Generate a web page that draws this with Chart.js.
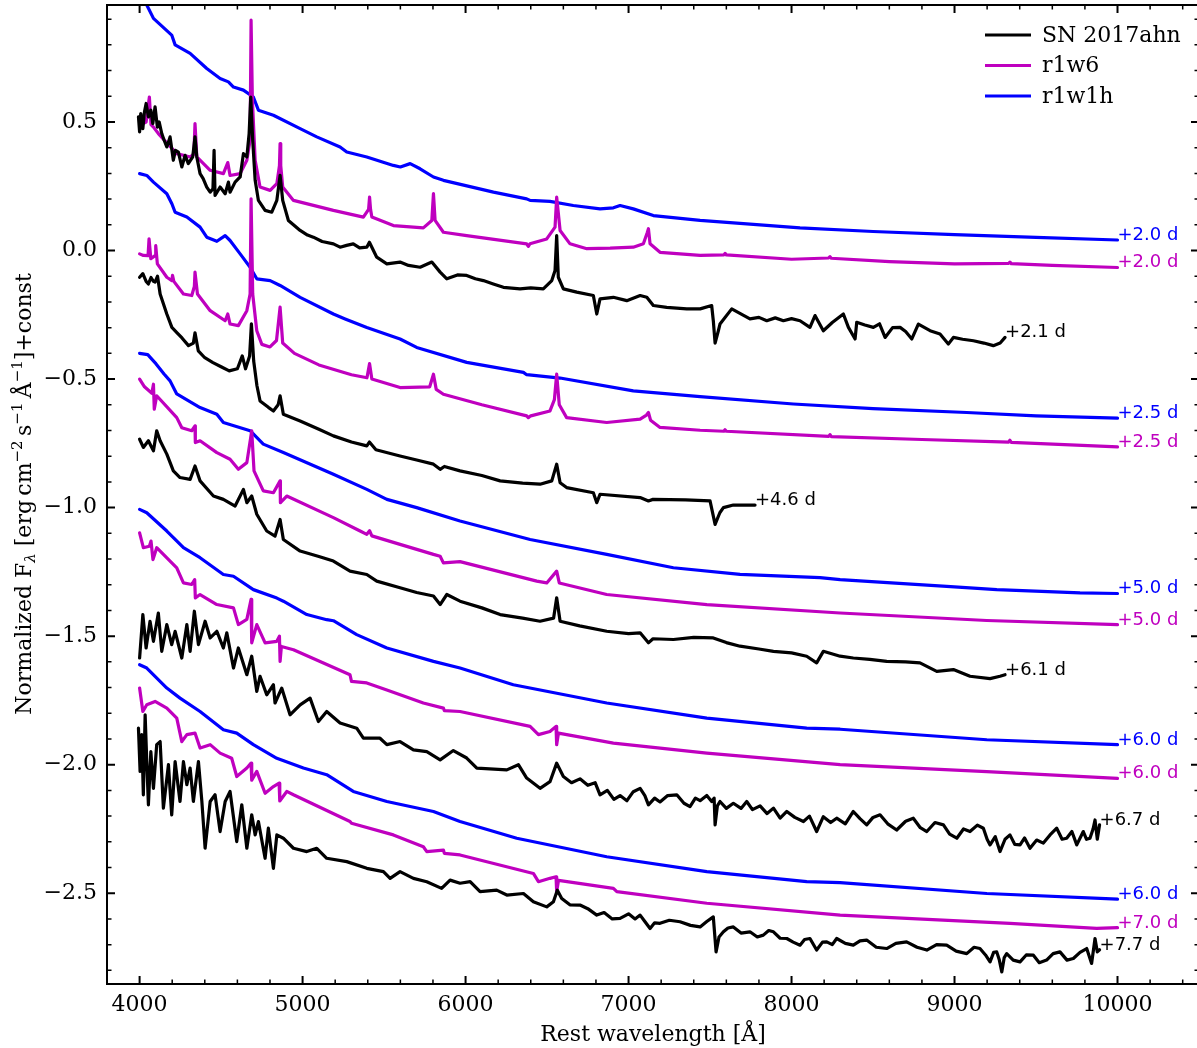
<!DOCTYPE html>
<html>
<head>
<meta charset="utf-8">
<title>SN 2017ahn spectra vs r1w6 / r1w1h models</title>
<script src="https://cdn.jsdelivr.net/npm/chart.js@4.4.1/dist/chart.umd.min.js"></script>
<style>
    html, body { margin: 0; padding: 0; background: #fff; overflow: hidden; }
    #wrap { width: 1200px; height: 1048px; }
</style>
</head>
<body>
<div id="wrap"><canvas id="specChart" width="1200" height="1048"></canvas></div>
<script>
// ============================================================
// DATA  ([rest wavelength in A, normalized flux + const])
// ============================================================

// --- SN 2017ahn (observed) ---
const sn21 = [[3993,0.52],[4000,0.461],[4007,0.533],[4020,0.474],[4030,0.54],[4040,0.572],[4054,0.52],[4069,0.546],[4081,0.494],[4095,0.559],[4109,0.48],[4120,0.50],[4136,0.455],[4150,0.43],[4167,0.403],[4187,0.442],[4207,0.351],[4220,0.39],[4238,0.383],[4259,0.325],[4279,0.37],[4299,0.338],[4326,0.364],[4340,0.442],[4351,0.364],[4371,0.299],[4390,0.28],[4412,0.247],[4433,0.227],[4450,0.24],[4457,0.39],[4463,0.214],[4494,0.247],[4525,0.221],[4545,0.266],[4555,0.227],[4586,0.266],[4617,0.286],[4637,0.377],[4658,0.364],[4672,0.455],[4682,0.597],[4694,0.429],[4709,0.273],[4729,0.195],[4770,0.156],[4811,0.149],[4842,0.195],[4862,0.292],[4878,0.195],[4913,0.117],[4985,0.078],[5030,0.06],[5066,0.052],[5120,0.035],[5189,0.026],[5230,0.013],[5270,0.02],[5311,0.026],[5350,0.01],[5394,0.013],[5410,0.032],[5455,-0.026],[5517,-0.052],[5598,-0.045],[5650,-0.058],[5721,-0.065],[5793,-0.045],[5844,-0.084],[5885,-0.11],[5950,-0.095],[6007,-0.097],[6060,-0.11],[6109,-0.117],[6170,-0.13],[6232,-0.143],[6334,-0.149],[6400,-0.145],[6477,-0.149],[6529,-0.117],[6549,-0.078],[6559,0.058],[6569,-0.104],[6600,-0.149],[6682,-0.162],[6784,-0.175],[6805,-0.247],[6825,-0.188],[6907,-0.182],[6989,-0.195],[7071,-0.175],[7112,-0.182],[7152,-0.214],[7234,-0.221],[7357,-0.227],[7439,-0.227],[7510,-0.214],[7520,-0.273],[7531,-0.36],[7551,-0.312],[7561,-0.286],[7633,-0.227],[7700,-0.25],[7745,-0.266],[7800,-0.26],[7848,-0.273],[7900,-0.262],[7950,-0.273],[8000,-0.265],[8052,-0.273],[8113,-0.299],[8144,-0.253],[8195,-0.312],[8250,-0.28],[8318,-0.247],[8349,-0.299],[8390,-0.344],[8400,-0.279],[8450,-0.29],[8502,-0.299],[8540,-0.285],[8574,-0.338],[8620,-0.30],[8666,-0.299],[8700,-0.315],[8738,-0.344],[8778,-0.286],[8850,-0.312],[8911,-0.325],[8962,-0.364],[8993,-0.338],[9050,-0.345],[9116,-0.351],[9180,-0.36],[9238,-0.37],[9280,-0.36],[9310,-0.338]];

const sn46 = [[4000,-0.104],[4020,-0.09],[4040,-0.12],[4054,-0.13],[4070,-0.105],[4085,-0.12],[4095,-0.123],[4110,-0.10],[4126,-0.169],[4167,-0.247],[4198,-0.299],[4230,-0.32],[4260,-0.34],[4300,-0.37],[4330,-0.36],[4340,-0.32],[4360,-0.39],[4400,-0.417],[4450,-0.436],[4500,-0.452],[4550,-0.468],[4600,-0.46],[4630,-0.41],[4650,-0.46],[4675,-0.41],[4686,-0.285],[4700,-0.43],[4720,-0.526],[4739,-0.585],[4790,-0.61],[4821,-0.624],[4850,-0.60],[4862,-0.565],[4882,-0.637],[4985,-0.663],[5100,-0.695],[5189,-0.721],[5300,-0.745],[5394,-0.76],[5410,-0.745],[5450,-0.775],[5598,-0.799],[5700,-0.815],[5803,-0.831],[5844,-0.851],[5870,-0.84],[5966,-0.857],[6100,-0.875],[6212,-0.896],[6350,-0.905],[6457,-0.909],[6529,-0.896],[6559,-0.831],[6580,-0.903],[6620,-0.922],[6784,-0.942],[6805,-0.981],[6825,-0.948],[7071,-0.961],[7122,-0.974],[7150,-0.968],[7350,-0.97],[7500,-0.974],[7531,-1.065],[7560,-1.02],[7582,-1.0],[7643,-0.99],[7776,-0.99]];

const sn61 = [[4000,-0.734],[4023,-0.766],[4054,-0.74],[4070,-0.76],[4085,-0.779],[4105,-0.701],[4126,-0.74],[4167,-0.792],[4207,-0.857],[4248,-0.883],[4310,-0.89],[4340,-0.838],[4371,-0.896],[4453,-0.955],[4514,-0.968],[4586,-0.994],[4637,-0.929],[4658,-0.981],[4688,-0.955],[4719,-1.026],[4780,-1.091],[4831,-1.111],[4862,-1.046],[4882,-1.124],[4985,-1.169],[5100,-1.19],[5189,-1.208],[5291,-1.247],[5394,-1.26],[5455,-1.286],[5598,-1.312],[5700,-1.33],[5803,-1.344],[5844,-1.377],[5885,-1.338],[5966,-1.364],[6100,-1.39],[6212,-1.416],[6350,-1.43],[6457,-1.442],[6540,-1.43],[6559,-1.351],[6580,-1.442],[6700,-1.46],[6866,-1.481],[7000,-1.49],[7071,-1.487],[7122,-1.526],[7150,-1.51],[7275,-1.513],[7400,-1.505],[7520,-1.507],[7600,-1.525],[7684,-1.539],[7800,-1.55],[7889,-1.559],[8000,-1.565],[8093,-1.578],[8154,-1.604],[8195,-1.559],[8298,-1.578],[8379,-1.585],[8480,-1.59],[8584,-1.598],[8700,-1.60],[8788,-1.604],[8891,-1.637],[8993,-1.63],[9095,-1.656],[9218,-1.665],[9279,-1.656],[9310,-1.65]];

const sn67 = [[4000,-1.585],[4020,-1.416],[4040,-1.546],[4064,-1.442],[4085,-1.52],[4115,-1.41],[4136,-1.559],[4167,-1.455],[4197,-1.533],[4218,-1.481],[4259,-1.585],[4290,-1.455],[4310,-1.559],[4336,-1.403],[4361,-1.533],[4402,-1.442],[4433,-1.507],[4474,-1.481],[4514,-1.546],[4535,-1.487],[4576,-1.624],[4606,-1.546],[4658,-1.65],[4688,-1.578],[4719,-1.715],[4739,-1.656],[4780,-1.728],[4821,-1.689],[4831,-1.76],[4872,-1.702],[4923,-1.806],[4985,-1.767],[5046,-1.741],[5097,-1.832],[5148,-1.793],[5230,-1.838],[5332,-1.858],[5373,-1.897],[5475,-1.897],[5517,-1.922],[5598,-1.91],[5680,-1.942],[5762,-1.949],[5844,-1.981],[5925,-1.945],[6007,-1.974],[6069,-2.013],[6253,-2.02],[6324,-2.0],[6375,-2.052],[6457,-2.092],[6518,-2.066],[6559,-1.994],[6600,-2.046],[6650,-2.07],[6702,-2.055],[6750,-2.08],[6795,-2.07],[6825,-2.117],[6870,-2.10],[6910,-2.135],[6948,-2.12],[6990,-2.14],[7029,-2.105],[7071,-2.092],[7100,-2.12],[7122,-2.156],[7160,-2.13],[7193,-2.145],[7240,-2.12],[7296,-2.117],[7340,-2.15],[7377,-2.163],[7410,-2.13],[7439,-2.14],[7480,-2.12],[7510,-2.143],[7525,-2.13],[7531,-2.234],[7545,-2.16],[7561,-2.143],[7600,-2.17],[7643,-2.15],[7690,-2.17],[7725,-2.143],[7760,-2.175],[7807,-2.16],[7850,-2.19],[7889,-2.169],[7930,-2.208],[7971,-2.182],[8020,-2.205],[8073,-2.221],[8110,-2.2],[8154,-2.26],[8195,-2.202],[8240,-2.225],[8277,-2.208],[8330,-2.23],[8379,-2.182],[8420,-2.21],[8461,-2.234],[8500,-2.205],[8543,-2.195],[8590,-2.23],[8645,-2.254],[8700,-2.22],[8747,-2.208],[8790,-2.245],[8830,-2.26],[8880,-2.225],[8932,-2.234],[8970,-2.27],[9014,-2.286],[9055,-2.25],[9095,-2.26],[9140,-2.235],[9177,-2.247],[9200,-2.29],[9218,-2.312],[9250,-2.28],[9279,-2.338],[9310,-2.29],[9340,-2.273],[9370,-2.31],[9402,-2.312],[9430,-2.285],[9463,-2.325],[9504,-2.293],[9545,-2.305],[9586,-2.273],[9627,-2.247],[9660,-2.29],[9688,-2.286],[9720,-2.26],[9750,-2.312],[9790,-2.26],[9810,-2.29],[9831,-2.286],[9850,-2.25],[9862,-2.215],[9876,-2.29],[9890,-2.234]];

const sn77 = [[3993,-1.858],[4003,-2.026],[4013,-1.883],[4023,-2.117],[4034,-1.806],[4044,-1.988],[4054,-2.156],[4069,-1.949],[4085,-2.092],[4105,-1.922],[4126,-1.91],[4146,-2.169],[4177,-2.0],[4197,-2.195],[4218,-1.988],[4248,-2.143],[4269,-1.988],[4290,-2.078],[4310,-2.013],[4330,-2.143],[4361,-1.988],[4382,-2.143],[4402,-2.325],[4433,-2.143],[4463,-2.117],[4494,-2.26],[4525,-2.143],[4555,-2.104],[4596,-2.299],[4627,-2.156],[4658,-2.325],[4688,-2.195],[4709,-2.273],[4729,-2.221],[4770,-2.364],[4790,-2.247],[4821,-2.403],[4842,-2.273],[4882,-2.286],[4944,-2.325],[5026,-2.338],[5087,-2.325],[5148,-2.364],[5271,-2.377],[5394,-2.403],[5496,-2.416],[5537,-2.442],[5598,-2.416],[5680,-2.442],[5762,-2.455],[5853,-2.481],[5905,-2.449],[5966,-2.461],[6028,-2.455],[6089,-2.494],[6191,-2.488],[6253,-2.507],[6355,-2.501],[6416,-2.533],[6498,-2.553],[6539,-2.533],[6563,-2.488],[6590,-2.52],[6640,-2.545],[6702,-2.546],[6750,-2.56],[6805,-2.585],[6850,-2.575],[6900,-2.6],[6948,-2.598],[7000,-2.58],[7040,-2.6],[7071,-2.585],[7100,-2.61],[7132,-2.637],[7160,-2.615],[7193,-2.617],[7250,-2.605],[7316,-2.611],[7380,-2.625],[7439,-2.631],[7480,-2.61],[7520,-2.592],[7537,-2.728],[7555,-2.67],[7582,-2.65],[7610,-2.635],[7643,-2.631],[7690,-2.655],[7745,-2.65],[7790,-2.67],[7827,-2.663],[7860,-2.645],[7889,-2.65],[7930,-2.675],[7971,-2.676],[8010,-2.69],[8052,-2.702],[8080,-2.68],[8113,-2.676],[8154,-2.721],[8190,-2.69],[8216,-2.689],[8250,-2.7],[8277,-2.676],[8330,-2.695],[8379,-2.702],[8420,-2.685],[8461,-2.682],[8520,-2.71],[8584,-2.715],[8640,-2.695],[8706,-2.689],[8770,-2.71],[8830,-2.721],[8890,-2.7],[8952,-2.702],[9010,-2.725],[9075,-2.735],[9120,-2.71],[9156,-2.715],[9190,-2.74],[9218,-2.767],[9240,-2.73],[9259,-2.728],[9275,-2.76],[9290,-2.806],[9305,-2.75],[9320,-2.735],[9360,-2.76],[9402,-2.767],[9440,-2.74],[9484,-2.741],[9520,-2.77],[9565,-2.76],[9605,-2.735],[9647,-2.728],[9690,-2.76],[9729,-2.754],[9770,-2.73],[9811,-2.715],[9841,-2.773],[9862,-2.676],[9876,-2.728],[9890,-2.72]];

// --- r1w6 model ---
const m20 = [[4000,0.487],[4040,0.50],[4060,0.597],[4070,0.49],[4085,0.48],[4115,0.455],[4228,0.377],[4310,0.364],[4333,0.375],[4340,0.494],[4351,0.364],[4433,0.312],[4514,0.299],[4541,0.342],[4555,0.292],[4617,0.299],[4658,0.351],[4678,0.429],[4684,0.896],[4692,0.585],[4709,0.351],[4739,0.247],[4801,0.234],[4842,0.26],[4858,0.33],[4862,0.416],[4866,0.33],[4878,0.247],[4944,0.195],[5189,0.156],[5373,0.13],[5405,0.16],[5411,0.208],[5417,0.16],[5425,0.13],[5557,0.097],[5741,0.088],[5793,0.117],[5803,0.221],[5813,0.117],[5864,0.071],[6007,0.058],[6375,0.026],[6385,0.016],[6395,0.026],[6498,0.045],[6549,0.091],[6559,0.208],[6580,0.078],[6641,0.026],[6744,0.007],[6887,0.009],[7029,0.013],[7091,0.026],[7115,0.07],[7122,0.085],[7132,0.026],[7193,-0.007],[7439,-0.019],[7585,-0.017],[7592,-0.011],[7600,-0.017],[8000,-0.034],[8228,-0.029],[8236,-0.024],[8244,-0.03],[8600,-0.043],[9000,-0.052],[9332,-0.050],[9340,-0.045],[9348,-0.051],[9600,-0.058],[10000,-0.066]];

const m25 = [[4000,-0.013],[4023,-0.019],[4052,-0.02],[4058,0.045],[4069,-0.032],[4095,-0.02],[4099,0.019],[4109,-0.052],[4167,-0.104],[4198,-0.117],[4202,-0.097],[4210,-0.12],[4269,-0.169],[4320,-0.175],[4336,-0.14],[4340,-0.084],[4355,-0.169],[4433,-0.234],[4525,-0.273],[4541,-0.247],[4555,-0.286],[4606,-0.292],[4658,-0.234],[4678,-0.169],[4684,0.201],[4694,-0.169],[4719,-0.312],[4750,-0.365],[4800,-0.375],[4840,-0.35],[4862,-0.22],[4878,-0.36],[4950,-0.40],[5100,-0.445],[5300,-0.483],[5395,-0.495],[5411,-0.44],[5425,-0.50],[5598,-0.533],[5780,-0.53],[5803,-0.481],[5820,-0.54],[5864,-0.559],[6100,-0.6],[6375,-0.643],[6385,-0.65],[6400,-0.643],[6518,-0.624],[6545,-0.58],[6559,-0.481],[6575,-0.6],[6620,-0.65],[6866,-0.669],[7071,-0.656],[7110,-0.64],[7122,-0.63],[7135,-0.66],[7193,-0.688],[7439,-0.699],[7585,-0.703],[7592,-0.697],[7600,-0.703],[8228,-0.723],[8236,-0.716],[8244,-0.724],[8800,-0.735],[9332,-0.745],[9340,-0.738],[9348,-0.746],[10000,-0.764]];

const m50 = [[4000,-0.50],[4030,-0.53],[4075,-0.555],[4085,-0.52],[4090,-0.617],[4105,-0.565],[4228,-0.65],[4259,-0.689],[4320,-0.701],[4340,-0.682],[4342,-0.747],[4371,-0.74],[4474,-0.786],[4555,-0.812],[4606,-0.851],[4658,-0.825],[4688,-0.701],[4702,-0.857],[4759,-0.935],[4821,-0.942],[4862,-0.896],[4864,-0.981],[4903,-0.955],[5189,-1.039],[5353,-1.091],[5394,-1.104],[5411,-1.09],[5425,-1.11],[5598,-1.143],[5803,-1.182],[5844,-1.189],[5864,-1.215],[5966,-1.21],[6437,-1.286],[6498,-1.293],[6559,-1.247],[6575,-1.293],[6866,-1.338],[7480,-1.377],[8298,-1.41],[9198,-1.439],[10000,-1.455]];

const m60 = [[4000,-1.098],[4023,-1.156],[4060,-1.15],[4070,-1.13],[4082,-1.202],[4105,-1.156],[4228,-1.234],[4269,-1.293],[4320,-1.299],[4338,-1.28],[4342,-1.351],[4371,-1.338],[4474,-1.377],[4576,-1.39],[4606,-1.455],[4658,-1.435],[4684,-1.357],[4688,-1.526],[4719,-1.455],[4770,-1.526],[4842,-1.52],[4858,-1.5],[4862,-1.598],[4870,-1.54],[4944,-1.553],[5291,-1.65],[5300,-1.676],[5394,-1.682],[5517,-1.709],[5741,-1.76],[5864,-1.78],[5870,-1.79],[5966,-1.793],[6396,-1.851],[6447,-1.883],[6518,-1.871],[6555,-1.851],[6559,-1.922],[6570,-1.877],[6907,-1.916],[7480,-1.955],[8298,-2.0],[9198,-2.027],[10000,-2.053]];

const m70 = [[4000,-1.702],[4020,-1.793],[4044,-1.767],[4095,-1.754],[4167,-1.78],[4228,-1.819],[4259,-1.91],[4290,-1.883],[4340,-1.877],[4371,-1.935],[4433,-1.922],[4494,-1.955],[4565,-1.975],[4596,-2.046],[4658,-2.013],[4684,-1.994],[4688,-2.06],[4719,-2.026],[4770,-2.111],[4821,-2.085],[4856,-2.072],[4860,-2.141],[4903,-2.104],[4944,-2.117],[5291,-2.221],[5300,-2.228],[5557,-2.273],[5741,-2.319],[5762,-2.338],[5864,-2.332],[5870,-2.345],[5966,-2.351],[6416,-2.423],[6447,-2.455],[6518,-2.442],[6555,-2.436],[6559,-2.494],[6570,-2.45],[6907,-2.481],[6928,-2.494],[7480,-2.539],[8298,-2.585],[9340,-2.617],[9872,-2.637],[10000,-2.634]];

// --- r1w1h model ---
const h20 = [[4025,0.99],[4040,0.96],[4085,0.903],[4197,0.838],[4218,0.80],[4310,0.767],[4412,0.708],[4494,0.669],[4545,0.656],[4576,0.636],[4637,0.624],[4698,0.597],[4729,0.546],[4821,0.526],[4985,0.474],[5087,0.442],[5230,0.403],[5271,0.383],[5394,0.364],[5557,0.331],[5600,0.325],[5660,0.338],[5721,0.318],[5803,0.286],[5864,0.273],[6171,0.227],[6375,0.201],[6396,0.195],[6518,0.191],[6661,0.175],[6825,0.162],[6907,0.166],[6948,0.175],[7029,0.162],[7152,0.136],[7439,0.117],[8052,0.088],[8500,0.074],[9000,0.062],[9500,0.051],[10000,0.041]];

const h25 = [[4000,0.299],[4044,0.292],[4085,0.266],[4167,0.221],[4198,0.182],[4218,0.149],[4290,0.13],[4371,0.091],[4412,0.052],[4474,0.036],[4525,0.058],[4555,0.039],[4617,-0.013],[4678,-0.065],[4719,-0.11],[4801,-0.117],[4862,-0.136],[4985,-0.182],[5189,-0.247],[5261,-0.266],[5394,-0.299],[5598,-0.344],[5700,-0.377],[6007,-0.435],[6355,-0.474],[6375,-0.483],[6580,-0.496],[7029,-0.546],[7439,-0.568],[8011,-0.597],[8500,-0.615],[9075,-0.63],[9500,-0.643],[10000,-0.652]];

const h50 = [[4000,-0.40],[4050,-0.405],[4100,-0.44],[4150,-0.48],[4187,-0.507],[4228,-0.558],[4371,-0.611],[4474,-0.637],[4514,-0.669],[4678,-0.701],[4759,-0.753],[4882,-0.786],[5189,-0.87],[5394,-0.929],[5517,-0.968],[5700,-1.0],[5966,-1.052],[6396,-1.124],[6866,-1.182],[7275,-1.234],[7684,-1.26],[8175,-1.272],[8298,-1.28],[8952,-1.306],[9259,-1.319],[9770,-1.332],[10000,-1.334]];

const h60a = [[4000,-1.007],[4044,-1.02],[4167,-1.091],[4269,-1.156],[4371,-1.195],[4514,-1.26],[4576,-1.267],[4698,-1.319],[4842,-1.352],[4882,-1.364],[5026,-1.416],[5148,-1.436],[5189,-1.44],[5332,-1.494],[5517,-1.546],[5803,-1.598],[5966,-1.624],[6293,-1.689],[6866,-1.76],[7480,-1.819],[8093,-1.858],[8298,-1.862],[9198,-1.903],[10000,-1.922]];

const h60b = [[4000,-1.611],[4044,-1.624],[4167,-1.702],[4248,-1.741],[4371,-1.793],[4514,-1.864],[4596,-1.877],[4698,-1.922],[4842,-1.975],[5005,-2.013],[5148,-2.039],[5311,-2.104],[5517,-2.143],[5803,-2.182],[5966,-2.221],[6314,-2.286],[6866,-2.358],[7480,-2.416],[8093,-2.455],[8298,-2.459],[9198,-2.501],[10000,-2.523]];

// epoch labels, in the same order as the series below
const snSeries   = [sn21, sn46, sn61, sn67, sn77];
const snEpochs   = ['+2.1 d', '+4.6 d', '+6.1 d', '+6.7 d', '+7.7 d'];
const r1w6Series = [m20, m25, m50, m60, m70];
const r1w6Epochs = ['+2.0 d', '+2.5 d', '+5.0 d', '+6.0 d', '+7.0 d'];
const r1w1hSeries = [h20, h25, h50, h60a, h60b];
const r1w1hEpochs = ['+2.0 d', '+2.5 d', '+5.0 d', '+6.0 d', '+6.0 d'];

const legendNames = ['SN 2017ahn', 'r1w6', 'r1w1h'];
const xMajorTicks = [4000, 5000, 6000, 7000, 8000, 9000, 10000];
const yMajorTicks = [-2.5, -2.0, -1.5, -1.0, -0.5, 0.0, 0.5];

// ============================================================
// STYLE
// ============================================================
const COL_SN = '#000000';
const COL_R1W6 = '#bf00bf';
const COL_R1W1H = '#0000ff';
const SERIF = '"DejaVu Serif", serif';
const SANS = '"DejaVu Sans", sans-serif';

function makeSet(pairs, color, name, epoch) {
    return {
        label: name,
        epoch: epoch,
        data: pairs.map(p => ({ x: p[0], y: p[1] })),
        borderColor: color,
        backgroundColor: color,
        borderWidth: 3.2,
        borderJoinStyle: 'round',
        borderCapStyle: 'round',
        pointRadius: 0,
        tension: 0,
        fill: false
    };
}

// black first -> drawn on top, then magenta, then blue
const datasets = [];
snSeries.forEach((s, i) => datasets.push(makeSet(s, COL_SN, legendNames[0], snEpochs[i])));
r1w6Series.forEach((s, i) => datasets.push(makeSet(s, COL_R1W6, legendNames[1], r1w6Epochs[i])));
r1w1hSeries.forEach((s, i) => datasets.push(makeSet(s, COL_R1W1H, legendNames[2], r1w1hEpochs[i])));

// ============================================================
// PLUGINS
// ============================================================
// frame + inward ticks on all four sides
const frameTicks = {
    id: 'frameTicks',
    afterDraw(chart) {
        const { ctx, chartArea: a, scales } = chart;
        const sx = scales.x, sy = scales.y;
        ctx.save();
        ctx.strokeStyle = '#000';
        ctx.lineWidth = 2;
        ctx.strokeRect(a.left, a.top, a.right - a.left, a.bottom - a.top);

        const tickX = (v, len, w) => {
            const px = sx.getPixelForValue(v);
            ctx.lineWidth = w;
            ctx.beginPath();
            ctx.moveTo(px, a.bottom); ctx.lineTo(px, a.bottom - len);
            ctx.moveTo(px, a.top); ctx.lineTo(px, a.top + len);
            ctx.stroke();
        };
        const tickY = (v, len, w) => {
            const py = sy.getPixelForValue(v);
            ctx.lineWidth = w;
            ctx.beginPath();
            ctx.moveTo(a.left, py); ctx.lineTo(a.left + len, py);
            ctx.moveTo(a.right, py); ctx.lineTo(a.right - len, py);
            ctx.stroke();
        };
        for (let v = 3800; v <= 10400; v += 200) {
            if (v % 1000 !== 0) tickX(v, 4.5, 1.5);
        }
        xMajorTicks.forEach(v => tickX(v, 8, 2));
        for (let k = -28; k <= 9; k++) {
            if (k % 5 !== 0) tickY(k / 10, 4.5, 1.5);
        }
        yMajorTicks.forEach(v => tickY(v, 8, 2));
        ctx.restore();
    }
};

// epoch label at the red end of each spectrum
const epochLabels = {
    id: 'epochLabels',
    afterDatasetsDraw(chart) {
        const ctx = chart.ctx;
        ctx.save();
        ctx.font = '18px ' + SANS;
        ctx.textAlign = 'left';
        ctx.textBaseline = 'alphabetic';
        chart.data.datasets.forEach((ds, i) => {
            const pts = chart.getDatasetMeta(i).data;
            const last = pts[pts.length - 1];
            ctx.fillStyle = ds.borderColor;
            ctx.fillText(ds.epoch, last.x, last.y);
        });
        ctx.restore();
    }
};

// legend top right, no frame
const cornerLegend = {
    id: 'cornerLegend',
    afterDraw(chart) {
        const ctx = chart.ctx;
        const cols = [COL_SN, COL_R1W6, COL_R1W1H];
        const rowsY = [35, 65.5, 96];
        ctx.save();
        ctx.font = '22px ' + SERIF;
        ctx.textAlign = 'left';
        ctx.textBaseline = 'middle';
        legendNames.forEach((name, i) => {
            ctx.strokeStyle = cols[i];
            ctx.lineWidth = 3;
            ctx.beginPath();
            ctx.moveTo(985, rowsY[i]);
            ctx.lineTo(1031, rowsY[i]);
            ctx.stroke();
            ctx.fillStyle = '#000';
            ctx.fillText(name, 1042, rowsY[i] + 1);
        });
        ctx.restore();
    }
};

// axis titles (y one has sub/superscripts)
const axisTitles = {
    id: 'axisTitles',
    afterDraw(chart) {
        const { ctx, chartArea: a } = chart;
        ctx.save();
        ctx.fillStyle = '#000';
        ctx.font = '22px ' + SERIF;
        ctx.textAlign = 'center';
        ctx.textBaseline = 'alphabetic';
        ctx.fillText('Rest wavelength [Å]', (a.left + a.right) / 2, 1041);

        // rotated y title
        const big = '22px ' + SERIF;
        const small = '15px ' + SERIF;
        const segs = [
            { t: 'Normalized F', f: big, dy: 0 },
            { t: 'λ', f: 'italic ' + small, dy: 4 },
            { t: ' [erg\u2009cm', f: big, dy: 0 },
            { t: '\u22122', f: small, dy: -9 },
            { t: '\u2009s', f: big, dy: 0 },
            { t: '\u22121', f: small, dy: -9 },
            { t: '\u2009Å', f: big, dy: 0 },
            { t: '\u22121', f: small, dy: -9 },
            { t: ']+const', f: big, dy: 0 }
        ];
        let total = 0;
        segs.forEach(s => { ctx.font = s.f; s.w = ctx.measureText(s.t).width; total += s.w; });
        ctx.translate(31, 494);
        ctx.rotate(-Math.PI / 2);
        ctx.textAlign = 'left';
        let cx = -total / 2;
        segs.forEach(s => {
            ctx.font = s.f;
            ctx.fillText(s.t, cx, s.dy);
            cx += s.w;
        });
        ctx.restore();
    }
};

// ============================================================
// CHART
// ============================================================
const noPad = s => { s.paddingTop = 0; s.paddingBottom = 0; s.paddingLeft = 0; s.paddingRight = 0; };

const ctx = document.getElementById('specChart');
new Chart(ctx.getContext('2d'), {
    type: 'line',
    data: { datasets: datasets },
    options: {
        responsive: false,
        animation: false,
        devicePixelRatio: 1,
        layout: { padding: { left: 0, top: 5, right: 1, bottom: 0 } },
        plugins: {
            legend: { display: false },
            tooltip: { enabled: false }
        },
        scales: {
            x: {
                type: 'linear',
                min: 3800,
                max: 10500,
                afterFit: s => { s.height = 64; noPad(s); },
                afterBuildTicks: s => { s.ticks = xMajorTicks.map(v => ({ value: v })); },
                grid: { display: false, drawTicks: false },
                border: { display: false },
                ticks: {
                    color: '#000',
                    font: { family: SERIF, size: 22 },
                    padding: 8,
                    maxRotation: 0,
                    autoSkip: false,
                    callback: v => String(v)
                }
            },
            y: {
                type: 'linear',
                min: -2.853,
                max: 0.955,
                afterFit: s => { s.width = 107; noPad(s); },
                afterBuildTicks: s => { s.ticks = yMajorTicks.map(v => ({ value: v })); },
                grid: { display: false, drawTicks: false },
                border: { display: false },
                ticks: {
                    color: '#000',
                    font: { family: SERIF, size: 22 },
                    padding: 10,
                    autoSkip: false,
                    callback: v => (v < 0 ? '\u2212' : '') + Math.abs(v).toFixed(1)
                }
            }
        }
    },
    plugins: [frameTicks, epochLabels, cornerLegend, axisTitles]
});
</script>
</body>
</html>
